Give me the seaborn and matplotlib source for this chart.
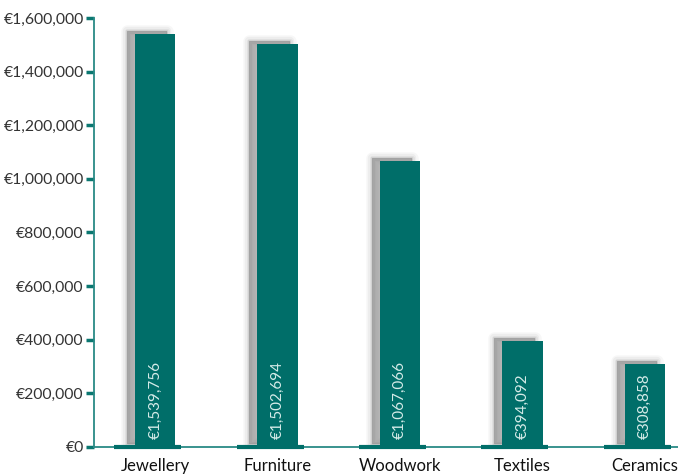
import matplotlib
matplotlib.use("Agg")
import matplotlib.pyplot as plt
import matplotlib.transforms as mtransforms
from matplotlib.patches import Rectangle
from matplotlib.ticker import FuncFormatter
import seaborn as sns
import pandas as pd

categories = ["Jewellery", "Furniture", "Woodwork", "Textiles", "Ceramics"]
values = [1539756, 1502694, 1067066, 394092, 308858]
y_ticks = [0, 200000, 400000, 600000, 800000, 1000000, 1200000, 1400000, 1600000]

BAR = "#006e69"
SPINE = "#2a8a86"

sns.set_theme(style="white")
plt.rcParams["font.family"] = ["Lato", "DejaVu Sans"]

df = pd.DataFrame({"category": categories, "value": values})

fig = plt.figure(figsize=(6.78, 4.74), dpi=100)
ax = fig.add_axes([94 / 678, 1 - 447 / 474, 612 / 678, 429 / 474])

sns.barplot(data=df, x="category", y="value", color=BAR, saturation=1,
            width=0.33, ax=ax, zorder=3, linewidth=0, edgecolor=BAR)

# soft drop shadows behind bars
shift = mtransforms.ScaledTranslation(-8 / 100, 3 / 100, fig.dpi_scale_trans)
for p in list(ax.patches):
    for lw, a in [(9, 0.06), (6, 0.08), (3.5, 0.11), (1.5, 0.14), (0, 0.32)]:
        r = Rectangle(p.get_xy(), p.get_width(), p.get_height(),
                      facecolor="#7a7a7a", edgecolor="#7a7a7a", linewidth=lw,
                      alpha=a, transform=ax.transData + shift, zorder=1,
                      joinstyle="round")
        ax.add_patch(r)

# thick base segments under bars
for i, _ in enumerate(categories):
    ax.hlines(0, i - 0.335, i + 0.212, color=BAR, lw=3, zorder=4, clip_on=False)

# value labels inside bars
for i, v in enumerate(values):
    ax.annotate(f"€{v:,}", xy=(i, 0), xytext=(0, 6), textcoords="offset points",
                rotation=90, ha="center", va="bottom", color="#d5ebe8",
                fontsize=11, zorder=5)

ax.set_xlim(-0.5, 4.5)
ax.set_ylim(0, 1600000)
ax.set_yticks(y_ticks)
ax.yaxis.set_major_formatter(FuncFormatter(lambda v, _: f"€{int(v):,}"))
ax.set_xlabel("")
ax.set_ylabel("")

for s in ["top", "right"]:
    ax.spines[s].set_visible(False)
ax.spines["left"].set_color(SPINE)
ax.spines["left"].set_linewidth(1.3)
ax.spines["bottom"].set_color(SPINE)
ax.spines["bottom"].set_linewidth(1.3)
ax.spines["left"].set_zorder(6)

ax.tick_params(axis="y", which="major", left=True, length=6, width=2.5,
               color="#0b7771", labelsize=11.3, labelcolor="#333333", pad=1.5)
ax.tick_params(axis="x", bottom=False, labelsize=12, labelcolor="#111111", pad=2)

fig.savefig("out.png", dpi=100)
